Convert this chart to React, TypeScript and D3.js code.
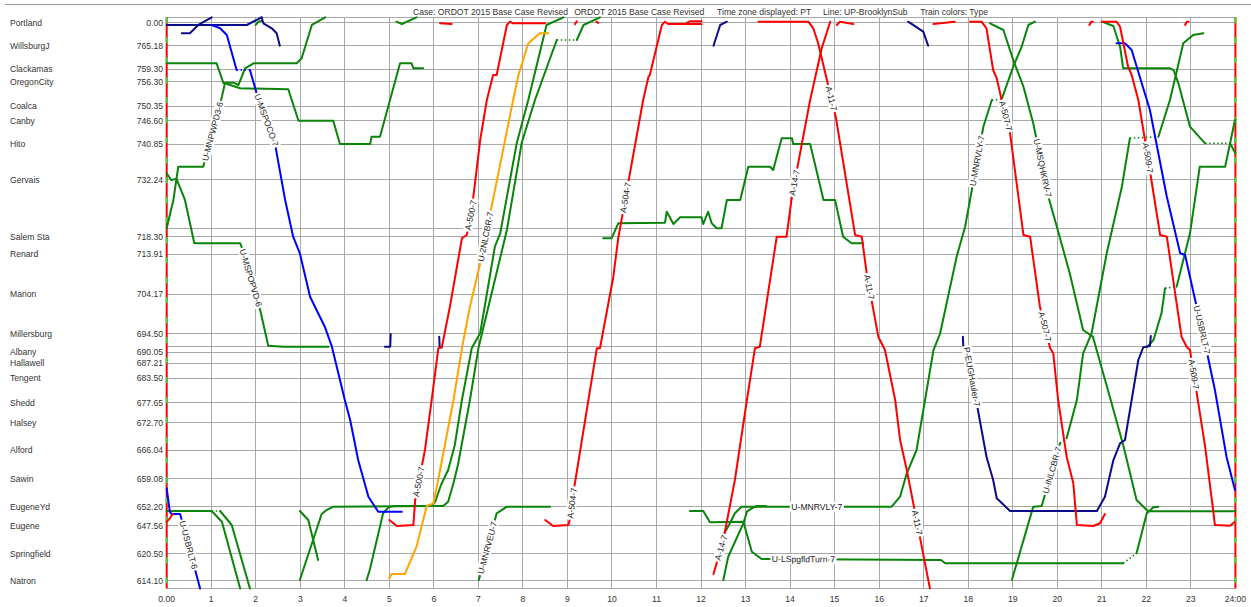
import React, { useEffect, useRef } from "react";
import * as d3 from "d3";

type P = [number, number]; // [hour, track distance in miles from Portland]

const W = 1251;
const H = 607;

// ---------- axis data ----------
const stationNames = ["Portland", "WillsburgJ", "Clackamas", "OregonCity", "Coalca", "Canby", "Hito", "Gervais", "Salem Sta", "Renard", "Marion", "Millersburg", "Albany", "Hallawell", "Tengent", "Shedd", "Halsey", "Alford", "Sawin", "EugeneYd", "Eugene", "Springfield", "Natron"];
const stationMileposts = ["0.00", "765.18", "759.30", "756.30", "750.35", "746.60", "740.85", "732.24", "718.30", "713.91", "704.17", "694.50", "690.05", "687.21", "683.50", "677.65", "672.70", "666.04", "659.08", "652.20", "647.56", "620.50", "614.10"];
const stationDistances = [0, 5.66, 11.49, 14.5, 20.52, 24.08, 29.86, 38.53, 52.46, 56.77, 66.57, 76.29, 80.7, 83.47, 87.14, 93.07, 98.02, 104.78, 111.71, 118.59, 123.24, 130.17, 136.71];
const extraTrackLines = [50.4, 79.4];
const hourTicks = d3.range(0, 25);
const hourTickLabels = ["0.00", "1", "2", "3", "4", "5", "6", "7", "8", "9", "10", "11", "12", "13", "14", "15", "16", "17", "18", "19", "20", "21", "22", "23", "24:00"];
const headerTexts = ["Case: ORDOT 2015 Base Case Revised", "ORDOT 2015 Base Case Revised", "Time zone displayed: PT", "Line: UP-BrooklynSub", "Train colors: Type"];
const headerHours = [5.53, 9.15, 12.36, 14.74, 16.92];

// ---------- trains ----------
const navyPortlandA: P[] = [[0.34, 2.65], [0.52, 2.65], [0.71, 0.61], [1.01, -1.27]];
const navyPortlandB: P[] = [[0, 0.61], [1.8, 0.61], [2.13, -1.27]];
const navyPortlandC: P[] = [[2.13, -1.27], [2.17, 0.2], [2.36, 1.42], [2.47, 2.65], [2.54, 5.68]];
const navyAlbany5: P[] = [[4.9, 79.4], [5.02, 79.4], [5.03, 76.3]];
const navyAlbany6: P[] = [[6.12, 76.95], [6.13, 79.6], [6.18, 79.6]];
const navyPortland12: P[] = [[12.28, 5.68], [12.43, 0.61], [12.58, -0.2]];
const navyPortland17: P[] = [[16.65, -0.2], [16.99, 2.25], [17.1, 5.68]];
const pEugHauler7: P[] = [[17.88, 76.95], [17.89, 79.4], [17.97, 80.21], [18.19, 93.26], [18.41, 106.34], [18.56, 112.05], [18.64, 116.53], [18.94, 119.64], [20.89, 119.64], [21.07, 116.14], [21.26, 107.15], [21.41, 103.06], [21.52, 102.25], [21.82, 82.66], [21.93, 79.55], [22.08, 79.24], [22.1, 76.8]];

const mspoco7A: P[] = [[1.01, 0.61], [1.2, 1.42], [1.35, 3.06], [1.57, 11.63]];
const mspoco7Dots: P[] = [[1.57, 11.63], [1.87, 11.63]];
const mspoco7B: P[] = [[1.87, 11.63], [2.02, 17.34], [2.43, 29.59], [2.66, 43.47], [2.84, 52.46], [2.99, 56.53], [3.22, 67.16], [3.55, 74.5], [3.71, 79.4], [4.0, 92.46], [4.12, 97.35], [4.3, 107.15], [4.53, 116.14], [4.75, 119.81], [5.28, 119.81]];
const usbrlt6: P[] = [[0, 114.08], [0.07, 119.81], [0.11, 120.38], [0.3, 120.38], [0.34, 121.84], [0.75, 138.6]];
const usbrlt7: P[] = [[21.33, 5.09], [21.52, 5.09], [21.67, 6.74], [22.08, 21.43], [22.46, 42.66], [22.76, 56.53], [22.87, 56.94], [23.13, 69.61], [23.35, 80.21], [23.54, 90.01], [23.8, 106.34], [23.99, 114.5]];

const nlcbr2: P[] = [[5.0, 136.13], [5.05, 135.07], [5.35, 135.07], [5.61, 128.38], [5.84, 118.42], [5.99, 117.76], [6.14, 109.6], [6.44, 92.46], [6.63, 79.79], [6.81, 69.61], [7.04, 58.98], [7.78, 18.98], [7.9, 12.86], [8.12, 5.09], [8.38, 2.65], [8.57, 2.65]];

const a500: P[] = [[5.0, 121.84], [5.17, 123.31], [5.54, 123.07], [5.58, 116.95], [5.8, 104.7], [5.95, 92.46], [6.1, 79.79], [6.18, 79.4], [6.36, 69.61], [6.63, 52.85], [6.74, 52.04], [6.85, 45.93], [7.04, 28.78], [7.19, 18.98], [7.33, 12.86], [7.41, 12.86], [7.64, 0.61], [7.71, -0.2], [7.78, 0.2], [8.5, 0.2]];
const a504: P[] = [[8.5, 121.84], [8.68, 123.31], [9.02, 123.07], [9.06, 121.43], [9.15, 114.0], [9.47, 92.46], [9.66, 79.79], [9.73, 79.79], [10.03, 62.26], [10.14, 52.85], [10.7, 18.98], [10.82, 13.27], [10.85, 12.86], [11.12, 0.61], [11.19, -0.2], [11.26, 0.37], [12.01, 0.37]];
const a14: P[] = [[12.28, 135.07], [12.5, 126.74], [12.76, 112.05], [13.03, 92.46], [13.21, 79.79], [13.32, 79.4], [13.7, 52.46], [13.92, 52.46], [14.04, 42.66], [14.45, 18.98], [14.71, 6.32], [14.9, -0.2]];
const a11: P[] = [[13.29, -0.2], [14.41, -0.2], [14.52, 1.42], [14.63, 5.09], [15.03, 23.39], [15.46, 52.04], [15.61, 52.46], [15.72, 61.43], [15.98, 76.95], [16.13, 80.21], [16.36, 92.46], [16.47, 102.25], [16.62, 109.6], [17.14, 138.6]];
const a507: P[] = [[18.04, -0.2], [18.3, -0.2], [18.41, 1.42], [18.56, 11.63], [18.64, 13.67], [18.75, 18.98], [18.94, 27.14], [19.24, 52.04], [19.39, 52.46], [19.61, 69.61], [19.84, 79.79], [19.91, 81.02], [20.02, 92.46], [20.21, 106.34], [20.36, 112.86], [20.44, 123.07], [20.81, 123.31], [20.96, 122.65], [21.07, 120.38]];
const a509: P[] = [[21.0, -0.2], [21.33, -0.2], [21.41, 1.03], [21.59, 10.83], [21.67, 12.86], [21.82, 18.98], [21.97, 28.78], [22.31, 52.04], [22.46, 52.46], [22.79, 76.95], [22.91, 79.55], [22.98, 80.21], [23.32, 103.89], [23.5, 119.4], [23.54, 123.07], [23.88, 123.24], [23.99, 122.26]];
const redEugeneStub: P[] = [[0, 122.26], [0.07, 121.43], [0.135, 120.38]];
const redTop6: P[] = [[6.14, 0.2], [6.4, 0.37]];
const redTop9a: P[] = [[9.17, 0.4], [9.21, -0.3]];
const redTop9b: P[] = [[9.65, -0.2], [9.69, 0.1]];
const redTop11: P[] = [[11.68, 0.1], [11.75, -0.3], [12.01, -0.3]];
const redTop15: P[] = [[15.05, 0.61], [15.12, -0.2], [15.42, 0.37]];
const redTop17: P[] = [[17.22, 0.37], [17.48, 0.05], [17.7, -0.2]];
const redTop20: P[] = [[20.72, 0.61], [20.76, -0.2], [20.8, -0.2]];
const redTop22: P[] = [[22.87, 0.61], [22.91, -0.2], [22.95, -0.2]];

const mnpwpd36: P[] = [[0, 50.4], [0.15, 43.47], [0.26, 35.32], [0.82, 35.32], [1.24, 18.17], [1.31, 14.74], [1.5, 14.74], [1.61, 15.31], [1.76, 11.22], [1.95, 9.99], [2.92, 9.99], [3.03, 8.77], [3.26, 0.61], [3.56, -1.27]];
const clackamasLocal: P[] = [[0, 9.99], [1.12, 9.99], [1.27, 14.74], [1.65, 16.12], [2.73, 16.36], [2.96, 24.05], [3.74, 24.05], [3.89, 29.76], [4.57, 29.76], [4.6, 27.97], [4.79, 27.97], [5.24, 9.99], [5.5, 9.99], [5.54, 11.22], [5.76, 11.22]];
const mspopvd6: P[] = [[0, 36.93], [0.1, 38.57], [0.22, 38.3], [0.41, 43.47], [0.62, 54.08], [1.65, 54.08], [1.68, 54.91], [2.1, 70.41], [2.28, 79.16], [2.62, 79.4], [3.63, 79.4]];
const greenTop2: P[] = [[2.0, 0.61], [2.06, -0.2], [2.13, -0.4]];
const greenTop5: P[] = [[5.16, -0.2], [5.28, 0.37], [5.61, -1.27]];
const eugYdSouthA: P[] = [[0, 119.64], [1.01, 119.64], [1.24, 122.26], [1.65, 138.6]];
const eugYdSouthBDots: P[] = [[1.01, 119.64], [1.2, 119.64]];
const eugYdSouthB: P[] = [[1.2, 119.64], [1.46, 123.07], [1.87, 138.6]];
const eugYdSouthC: P[] = [[2.99, 119.64], [3.18, 121.84], [3.4, 131.65]];
const natronNorthA: P[] = [[2.99, 136.54], [3.48, 120.38], [3.59, 119.4], [3.74, 118.59], [5.95, 118.42], [6.03, 117.37], [6.16, 113.28], [6.32, 109.6], [6.47, 103.48], [6.63, 92.46], [6.85, 79.79], [7.04, 76.05], [7.37, 54.91], [7.49, 51.63], [7.86, 29.59], [8.12, 18.98], [8.53, 0.61], [8.91, -1.27]];
const natronNorthB1: P[] = [[4.49, 136.54], [4.56, 134.09], [4.86, 120.2], [4.98, 118.74], [5.1, 118.42], [6.21, 118.42], [6.32, 117.37], [6.44, 112.86], [6.54, 108.37], [6.81, 92.46], [7.0, 79.79], [7.64, 50.82], [7.97, 29.59], [8.27, 18.98], [8.76, 4.29]];
const natronNorthBDots: P[] = [[8.76, 4.29], [9.21, 4.29]];
const natronNorthB2: P[] = [[9.21, 4.29], [9.36, 0.61], [9.73, -1.27]];
const mnrveu7: P[] = [[7.01, 136.54], [7.41, 120.2], [7.64, 118.59], [8.61, 118.59]];
const salemLocal: P[] = [[9.8, 52.85], [9.99, 52.85], [10.14, 49.18], [11.19, 49.03], [11.23, 46.34], [11.38, 49.35], [11.53, 47.71], [12.01, 47.71], [12.05, 49.35], [12.16, 46.34], [12.24, 49.18], [12.35, 50.4], [12.46, 50.4], [12.58, 43.47], [12.88, 43.47], [13.06, 35.32], [13.55, 35.32], [13.62, 36.13], [13.81, 28.36], [14.04, 28.36], [14.07, 29.76], [14.45, 29.76], [14.75, 43.47], [15.01, 43.47], [15.19, 52.46], [15.38, 54.08], [15.64, 54.08]];
const mnrvly7A: P[] = [[12.46, 126.33], [12.65, 122.65], [12.76, 120.2], [12.91, 118.59], [16.28, 118.59], [16.47, 116.14], [16.62, 110.41], [16.84, 104.7], [17.03, 92.46], [17.22, 80.21], [17.37, 76.12], [17.74, 57.36], [17.93, 50.01], [18.34, 25.52], [18.53, 18.98]];
const mnrvly7Dots: P[] = [[18.53, 18.98], [18.75, 18.81]];
const mnrvly7B: P[] = [[18.75, 18.81], [19.01, 10.83], [19.2, 5.93], [19.35, 0.61], [19.5, -0.2]];
const natronNorthC: P[] = [[12.5, 136.54], [12.61, 130.84], [12.95, 122.65], [13.03, 119.81], [13.14, 118.98], [13.25, 118.42], [13.46, 118.42]];
const lspgfldTurn7A: P[] = [[11.75, 119.64], [12.05, 119.64], [12.2, 122.4], [12.95, 122.26], [13.14, 129.61], [13.36, 131.4], [17.39, 131.65], [17.48, 132.45], [21.48, 132.45]];
const lspgfldTurn7Dots: P[] = [[21.48, 132.45], [21.78, 130.0]];
const lspgfldTurn7B: P[] = [[21.78, 130.0], [22.01, 120.2], [22.16, 118.74], [22.27, 118.59]];
const msqhkrv7: P[] = [[18.49, 0.2], [18.79, 1.84], [19.01, 9.18], [19.24, 15.72], [19.46, 24.69], [19.8, 42.66], [19.99, 50.01], [20.28, 61.43], [20.58, 75.31], [20.8, 76.95], [21.2, 92.46], [21.49, 103.89], [21.78, 116.95], [22.04, 119.72], [24, 119.72]];
const inlcbr7A: P[] = [[18.98, 136.54], [19.46, 118.59], [19.65, 118.42], [20.06, 103.06]];
const inlcbr7DotsA: P[] = [[20.06, 103.06], [20.21, 101.84]];
const inlcbr7B: P[] = [[20.21, 101.84], [20.44, 92.46], [20.58, 81.02], [20.77, 76.12], [21.11, 56.53], [21.45, 40.22], [21.63, 28.36]];
const inlcbr7DotsB: P[] = [[21.63, 28.36], [22.27, 27.97]];
const inlcbr7C: P[] = [[22.27, 27.97], [22.53, 18.98], [22.83, 5.09], [23.05, 3.06], [23.28, 2.65]];
const southbound21A: P[] = [[21.0, -0.2], [21.26, 0.86], [21.41, 5.93], [21.48, 11.22], [22.53, 11.22], [22.61, 11.63], [22.72, 14.89], [22.98, 25.52], [23.32, 29.59]];
const southbound21Dots: P[] = [[23.32, 29.59], [23.88, 29.59]];
const southbound21B: P[] = [[23.88, 29.59], [24, 32.04]];
const northbound22A: P[] = [[22.01, 79.55], [22.16, 77.76], [22.34, 71.22], [22.42, 65.1]];
const northbound22Dots: P[] = [[22.42, 65.1], [22.68, 64.71]];
const northbound22B: P[] = [[22.68, 64.71], [22.83, 58.17], [22.98, 51.63], [23.2, 35.32], [23.77, 35.32], [23.99, 23.88]];

const RED = "#ff0000";
const GREEN = "#0a840a";
const BLUE = "#0000ff";
const NAVY = "#0c0c8a";
const ORANGE = "#ffa500";

interface Train { id: string; color: string; legs: P[][]; dots?: P[][]; }

const trains: Train[] = [
  { id: "clackamasLocal", color: GREEN, legs: [clackamasLocal] },
  { id: "MNPWPD", color: GREEN, legs: [mnpwpd36] },
  { id: "MSPOPVD", color: GREEN, legs: [mspopvd6] },
  { id: "greenTop2", color: GREEN, legs: [greenTop2] },
  { id: "greenTop5", color: GREEN, legs: [greenTop5] },
  { id: "eugA", color: GREEN, legs: [eugYdSouthA] },
  { id: "eugB", color: GREEN, legs: [eugYdSouthB], dots: [eugYdSouthBDots] },
  { id: "eugC", color: GREEN, legs: [eugYdSouthC] },
  { id: "natA", color: GREEN, legs: [natronNorthA] },
  { id: "natB", color: GREEN, legs: [natronNorthB1, natronNorthB2], dots: [natronNorthBDots] },
  { id: "MNRVEU", color: GREEN, legs: [mnrveu7] },
  { id: "salemLocal", color: GREEN, legs: [salemLocal] },
  { id: "MNRVLY", color: GREEN, legs: [mnrvly7A, mnrvly7B], dots: [mnrvly7Dots] },
  { id: "natC", color: GREEN, legs: [natronNorthC] },
  { id: "LSPG", color: GREEN, legs: [lspgfldTurn7A, lspgfldTurn7B], dots: [lspgfldTurn7Dots] },
  { id: "MSQHKRV", color: GREEN, legs: [msqhkrv7] },
  { id: "INLCBR", color: GREEN, legs: [inlcbr7A, inlcbr7B, inlcbr7C], dots: [inlcbr7DotsA, inlcbr7DotsB] },
  { id: "sb21", color: GREEN, legs: [southbound21A, southbound21B], dots: [southbound21Dots] },
  { id: "nb22", color: GREEN, legs: [northbound22A, northbound22B], dots: [northbound22Dots] },
  { id: "NLCBR2", color: ORANGE, legs: [nlcbr2] },
  { id: "navyA", color: NAVY, legs: [navyPortlandA] },
  { id: "navyB", color: NAVY, legs: [navyPortlandB] },
  { id: "navyC", color: NAVY, legs: [navyPortlandC] },
  { id: "navy5", color: NAVY, legs: [navyAlbany5] },
  { id: "navy6", color: NAVY, legs: [navyAlbany6] },
  { id: "navy12", color: NAVY, legs: [navyPortland12] },
  { id: "navy17", color: NAVY, legs: [navyPortland17] },
  { id: "EUG", color: NAVY, legs: [pEugHauler7] },
  { id: "MSPOCO", color: BLUE, legs: [mspoco7A, mspoco7B], dots: [mspoco7Dots] },
  { id: "USBRLT6", color: BLUE, legs: [usbrlt6] },
  { id: "USBRLT7", color: BLUE, legs: [usbrlt7] },
  { id: "A500", color: RED, legs: [a500] },
  { id: "A504", color: RED, legs: [a504] },
  { id: "A14", color: RED, legs: [a14] },
  { id: "A11", color: RED, legs: [a11] },
  { id: "A507", color: RED, legs: [a507] },
  { id: "A509", color: RED, legs: [a509] },
  { id: "redStubs", color: RED, legs: [redEugeneStub, redTop6, redTop9a, redTop9b, redTop11, redTop15, redTop17, redTop20, redTop22] },
];

const labelTexts = ["U-MNPWPD3-6", "U-MSPOCO-7", "U-MSPOPVD-6", "U-USBRLT-6", "A-500-7", "A-500-7", "U-2NLCBR-7", "U-MNRVEU-7", "A-504-7", "A-504-7", "A-14-7", "A-14-7", "A-11-7", "A-11-7", "A-11-7", "U-MNRVLY-7", "U-MNRVLY-7", "U-LSpgfldTurn-7", "U-MSQHKRV-7", "P-EUGHauler-7", "A-507-7", "A-507-7", "U-INLCBR-7", "A-509-7", "A-509-7", "U-USBRLT-7"];
const labelTrains = ["MNPWPD", "MSPOCO", "MSPOPVD", "USBRLT6", "A500", "A500", "NLCBR2", "MNRVEU", "A504", "A504", "A14", "A14", "A11", "A11", "A11", "MNRVLY", "MNRVLY", "LSPG", "MSQHKRV", "EUG", "A507", "A507", "INLCBR", "A509", "A509", "USBRLT7"];
const labelAt: P[] = [[1.03, 26.7], [2.24, 23.9], [1.87, 62.6], [0.48, 128], [5.67, 112.5], [6.79, 47.1], [7.18, 52.5], [7.22, 128.7], [9.1, 117.7], [10.36, 43], [12.41, 128.5], [14.13, 39.3], [14.97, 18.5], [15.77, 64.8], [16.8, 122.6], [14.6, 118.59], [18.11, 33.7], [14.3, 131.5], [19.68, 35.6], [18.08, 86.8], [18.83, 22.9], [19.68, 74.6], [19.86, 109.6], [22.02, 33.2], [22.98, 86.3], [23.23, 75.3]];

const FONT = "'Liberation Sans', Arial, Helvetica, sans-serif";

export default function App() {
  const ref = useRef<SVGSVGElement | null>(null);

  useEffect(() => {
    document.body.style.margin = "0";
    const svg = d3.select(ref.current as SVGSVGElement);
    svg.selectAll("*").remove();

    const x = d3.scaleLinear().domain([0, 24]).range([166.7, 1235.4]);
    const y = d3.scaleLinear().domain([0, 136.71]).range([22.5, 580.7]);
    const top = y(-1.27);
    const bottom = y(138.6);

    svg.append("rect").attr("width", W).attr("height", H).attr("fill", "#ffffff");
    svg.append("line").attr("x1", 5).attr("x2", W).attr("y1", 4.5).attr("y2", 4.5).attr("stroke", "#9a9a9a").attr("stroke-width", 1);

    // header
    svg.append("g").selectAll("text").data(headerTexts).join("text")
      .attr("x", (_d, i) => x(headerHours[i])).attr("y", 14.5)
      .attr("font-family", FONT).attr("font-size", 8.6).attr("fill", "#333")
      .text((d) => d);

    // grid
    const grid = svg.append("g").attr("stroke", "#a8a8a8").attr("stroke-width", 1).attr("shape-rendering", "crispEdges");
    grid.selectAll("line.v").data(hourTicks).join("line").attr("class", "v")
      .attr("x1", (d) => x(d)).attr("x2", (d) => x(d)).attr("y1", top).attr("y2", bottom);
    grid.selectAll("line.h").data([...stationDistances, ...extraTrackLines, -1.27, 138.6]).join("line").attr("class", "h")
      .attr("x1", x(0)).attr("x2", x(24)).attr("y1", (d) => y(d)).attr("y2", (d) => y(d));

    // colored side bars
    [0, 24].forEach((h) => {
      svg.append("line").attr("x1", x(h)).attr("x2", x(h)).attr("y1", top).attr("y2", bottom).attr("stroke", RED).attr("stroke-width", 2);
      svg.append("line").attr("x1", x(h)).attr("x2", x(h)).attr("y1", top).attr("y2", bottom).attr("stroke", "#33dd33").attr("stroke-width", 2).attr("stroke-dasharray", "6,14");
    });

    // axis labels
    const lab = svg.append("g").attr("font-family", FONT).attr("font-size", 8.6).attr("fill", "#333");
    lab.selectAll("text.st").data(stationNames).join("text").attr("class", "st")
      .attr("x", 10).attr("y", (_d, i) => y(stationDistances[i]) + 3).text((d) => d);
    lab.selectAll("text.mp").data(stationMileposts).join("text").attr("class", "mp")
      .attr("x", 163).attr("text-anchor", "end").attr("y", (_d, i) => y(stationDistances[i]) + 3).text((d) => d);
    lab.selectAll("text.hr").data(hourTickLabels).join("text").attr("class", "hr")
      .attr("x", (_d, i) => x(hourTicks[i])).attr("text-anchor", "middle").attr("y", 602).text((d) => d);

    // trains
    const line = d3.line<P>().x((p) => x(p[0])).y((p) => y(p[1]));
    const tg = svg.append("g").attr("fill", "none").attr("stroke-linejoin", "round").attr("stroke-linecap", "round");
    trains.forEach((t) => {
      t.legs.forEach((leg) => {
        tg.append("path").attr("d", line(leg)).attr("stroke", t.color).attr("stroke-width", 2);
      });
      (t.dots || []).forEach((leg) => {
        tg.append("path").attr("d", line(leg)).attr("stroke", t.color).attr("stroke-width", 1.6)
          .attr("stroke-dasharray", "1.5,2.5").attr("stroke-linecap", "butt");
      });
    });

    // train labels
    const lg = svg.append("g");
    labelTexts.forEach((txt, i) => {
      const tr = trains.find((t) => t.id === labelTrains[i]);
      if (!tr) return;
      const px = x(labelAt[i][0]);
      const py = y(labelAt[i][1]);
      let best = { dist: Infinity, x: px, y: py, a: 0 };
      tr.legs.forEach((leg) => {
        for (let k = 0; k < leg.length - 1; k++) {
          const x1 = x(leg[k][0]), y1 = y(leg[k][1]);
          const x2 = x(leg[k + 1][0]), y2 = y(leg[k + 1][1]);
          const dx = x2 - x1, dy = y2 - y1;
          const len2 = dx * dx + dy * dy;
          if (len2 === 0) continue;
          let u = ((px - x1) * dx + (py - y1) * dy) / len2;
          u = Math.max(0, Math.min(1, u));
          const qx = x1 + u * dx, qy = y1 + u * dy;
          const dd = Math.hypot(px - qx, py - qy);
          if (dd < best.dist) best = { dist: dd, x: qx, y: qy, a: (Math.atan2(dy, dx) * 180) / Math.PI };
        }
      });
      const g = lg.append("g").attr("transform", `translate(${best.x},${best.y}) rotate(${best.a})`);
      const rect = g.append("rect").attr("fill", "#ffffff");
      const text = g.append("text").attr("text-anchor", "middle").attr("dy", "0.34em")
        .attr("font-family", FONT).attr("font-size", 8.6).attr("fill", "#222").text(txt);
      const tl = (text.node() as SVGTextElement).getComputedTextLength();
      rect.attr("x", -tl / 2 - 1.5).attr("y", -5).attr("width", tl + 3).attr("height", 10);
    });
  }, []);

  return <svg ref={ref} width={W} height={H} style={{ display: "block" }} />;
}
